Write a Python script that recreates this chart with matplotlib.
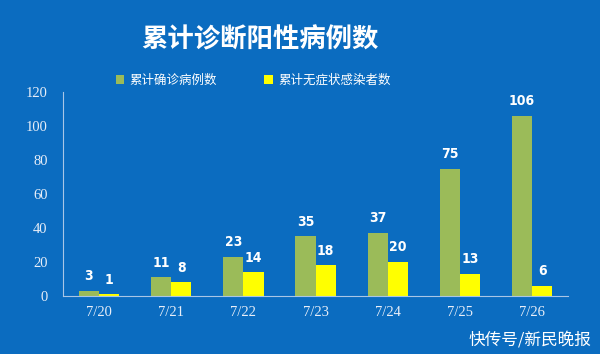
import matplotlib.pyplot as plt
import numpy as np

plt.rcParams['font.family'] = ['Noto Sans CJK SC', 'DejaVu Sans']

dates = ["7/20", "7/21", "7/22", "7/23", "7/24", "7/25", "7/26"]
confirmed = [3, 11, 23, 35, 37, 75, 106]
asymptomatic = [1, 8, 14, 18, 20, 13, 6]

bg = "#0b6cc0"
green = "#9bbb59"
yellow = "#ffff00"

fig = plt.figure(figsize=(6, 3.54), dpi=100, facecolor=bg)
ax = fig.add_axes([0.105, 0.164, 0.842, 0.576], facecolor=bg)

x = np.arange(len(dates))
w = 0.28
b1 = ax.bar(x - w / 2, confirmed, w, color=green, label="累计确诊病例数")
b2 = ax.bar(x + w / 2, asymptomatic, w, color=yellow, label="累计无症状感染者数")

# value labels on top of bars
for bars, vals in ((b1, confirmed), (b2, asymptomatic)):
    for rect, v in zip(bars, vals):
        ax.annotate(str(v), (rect.get_x() + rect.get_width() / 2, v),
                    xytext=(0, 5.5), textcoords="offset points",
                    ha="center", va="bottom", color="white", fontsize=10,
                    fontweight="bold", fontstretch="condensed",
                    family="DejaVu Sans")

ax.set_xlim(-0.5, len(dates) - 0.5)
ax.set_ylim(0, 120)
ax.set_yticks(range(0, 121, 20))
ax.set_xticks(x)
ax.set_xticklabels(dates)
ax.tick_params(length=0, colors="#e8eef8", labelsize=10.5)
ax.tick_params(axis="x", pad=7)
ax.tick_params(axis="y", pad=11)
for lab in ax.get_xticklabels() + ax.get_yticklabels():
    lab.set_family("Liberation Serif")

for s in ("top", "right"):
    ax.spines[s].set_visible(False)
for s in ("left", "bottom"):
    ax.spines[s].set_color("#a9c6e6")
    ax.spines[s].set_linewidth(0.8)

fig.text(0.434, 0.888, "累计诊断阳性病例数", ha="center", va="center",
         color="white", fontsize=19, fontweight="black")

fig.legend(loc="center", bbox_to_anchor=(0.422, 0.773), ncol=2, frameon=False,
           fontsize=9, labelcolor="white", handlelength=0.7, handleheight=0.7,
           handletextpad=0.4, columnspacing=3.8)

fig.text(0.985, 0.04, "快传号/新民晚报", ha="right", va="center",
         color="white", fontsize=12)

fig.savefig("out.png", dpi=100, facecolor=bg)
